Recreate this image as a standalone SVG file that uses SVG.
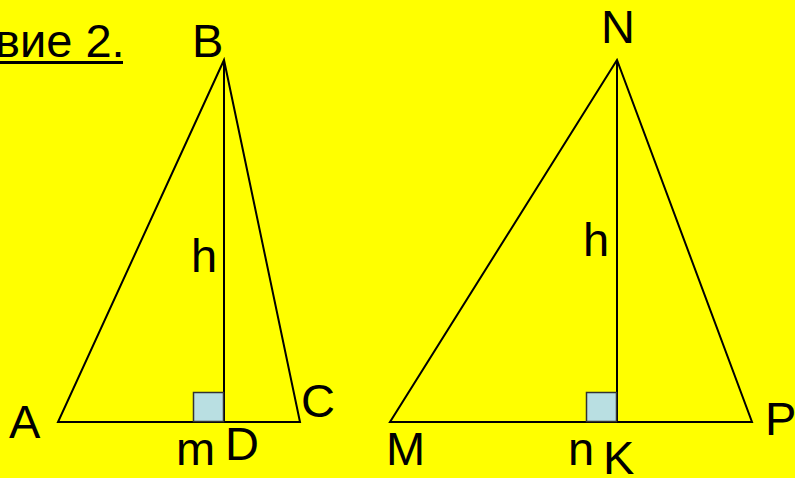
<svg xmlns="http://www.w3.org/2000/svg" width="795" height="478" viewBox="0 0 795 478">
<style>
.t{font-family:"Liberation Sans",Arial,sans-serif;font-size:47px;fill:#000}
.ln{stroke:#000;stroke-width:2;fill:none}
.sq{fill:#b9dfe2;stroke:#333;stroke-width:1.5}
</style>
<rect width="795" height="478" fill="#ffff00"/>
<g id="title">
<text class="t" x="-5" y="57">вие 2.</text>
<rect x="0" y="61" width="123" height="3" fill="#000"/>
</g>
<g id="connectors">
<polygon class="ln" points="224,60 58,422 300,422"/>
<line class="ln" x1="224" y1="60" x2="224" y2="422"/>
<polygon class="ln" points="617,60 390,422 752,422"/>
<line class="ln" x1="617" y1="60" x2="617" y2="422"/>
</g>
<g id="squares">
<rect class="sq" x="193.5" y="392.5" width="30" height="29"/>
<rect class="sq" x="586.5" y="392.5" width="30" height="29"/>
</g>
<g id="labels">
<text class="t" x="192" y="57">B</text>
<text class="t" x="601" y="43">N</text>
<text class="t" x="191" y="272">h</text>
<text class="t" x="583" y="256">h</text>
<text class="t" x="9" y="438">A</text>
<text class="t" x="301" y="417">C</text>
<text class="t" x="176" y="465">m</text>
<text class="t" x="225" y="460">D</text>
<text class="t" x="386" y="465">M</text>
<text class="t" x="568" y="465">n</text>
<text class="t" x="603" y="474">K</text>
<text class="t" x="765" y="435">P</text>
</g>
</svg>
